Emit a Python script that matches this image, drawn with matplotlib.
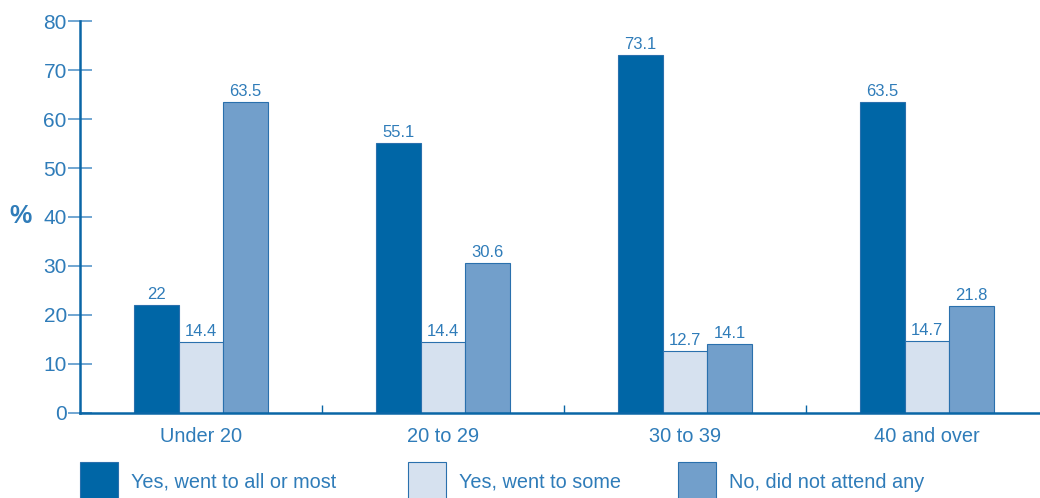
import matplotlib
matplotlib.use("Agg")
import matplotlib.pyplot as plt
import numpy as np
from matplotlib.patches import Rectangle

plt.rcParams['font.family'] = ['Liberation Sans', 'DejaVu Sans']

categories = ["Under 20", "20 to 29", "30 to 39", "40 and over"]
series_names = ["Yes, went to all or most", "Yes, went to some", "No, did not attend any"]
all_or_most = [22, 55.1, 73.1, 63.5]
some = [14.4, 14.4, 12.7, 14.7]
none_attended = [63.5, 30.6, 14.1, 21.8]
value_labels = [["22", "55.1", "73.1", "63.5"],
                ["14.4", "14.4", "12.7", "14.7"],
                ["63.5", "30.6", "14.1", "21.8"]]
y_ticks = [0, 10, 20, 30, 40, 50, 60, 70, 80]

colors = ["#0066a6", "#d6e1ef", "#729fcb"]
edge = "#2a70ad"
txt = "#2f7cb9"
axis_col = "#0a66a6"
tick_col = "#4a8ec6"

fig = plt.figure(figsize=(10.4, 4.98), dpi=100)
ax = fig.add_axes([80/1040, 1 - 412.7/498, 968/1040, (412.7 - 21.3)/498])

x = np.arange(len(categories))
w = 0.184
data = [all_or_most, some, none_attended]
for i, (vals, c) in enumerate(zip(data, colors)):
    pos = x + (i - 1) * w
    ax.bar(pos, vals, width=w, color=c, edgecolor=edge, linewidth=0.8, zorder=2)
    for p, v, lab in zip(pos, vals, value_labels[i]):
        ax.text(p, v + 0.6, lab, ha='center', va='bottom', fontsize=12, color=txt)

ax.set_xlim(-0.5, 3.5)
ax.set_ylim(0, 80)
ax.set_yticks(y_ticks)
ax.set_xticks(x)
ax.set_xticklabels(categories)
ax.set_xticks([0.5, 1.5, 2.5], minor=True)

for s in ['top', 'right']:
    ax.spines[s].set_visible(False)
ax.spines['left'].set_color(axis_col)
ax.spines['left'].set_linewidth(1.8)
ax.spines['bottom'].set_color(axis_col)
ax.spines['bottom'].set_linewidth(1.8)
ax.spines['bottom'].set_zorder(3)

ax.tick_params(axis='y', direction='inout', length=17, width=1.1, color=tick_col,
               labelcolor=txt, labelsize=15, pad=1)
ax.tick_params(axis='x', which='major', length=0, labelcolor=txt, labelsize=14.4, pad=10)
ax.tick_params(axis='x', which='minor', direction='in', length=6, width=1, color=axis_col)

fig.text(21/1040, 1 - 216/498, "%", fontsize=18, fontweight='bold', color=txt,
         ha='center', va='center')

leg_x = [80, 408, 678]
for lx, name, c in zip(leg_x, series_names, colors):
    fig.add_artist(Rectangle((lx/1040, -0.02), 38/1040, (498 - 462)/498 + 0.02,
                             transform=fig.transFigure, facecolor=c, edgecolor=edge,
                             linewidth=0.8))
    fig.text((lx + 51)/1040, 1 - 482/498, name, fontsize=14.3, color=txt,
             ha='left', va='center')

fig.savefig("out.png", dpi=100)
